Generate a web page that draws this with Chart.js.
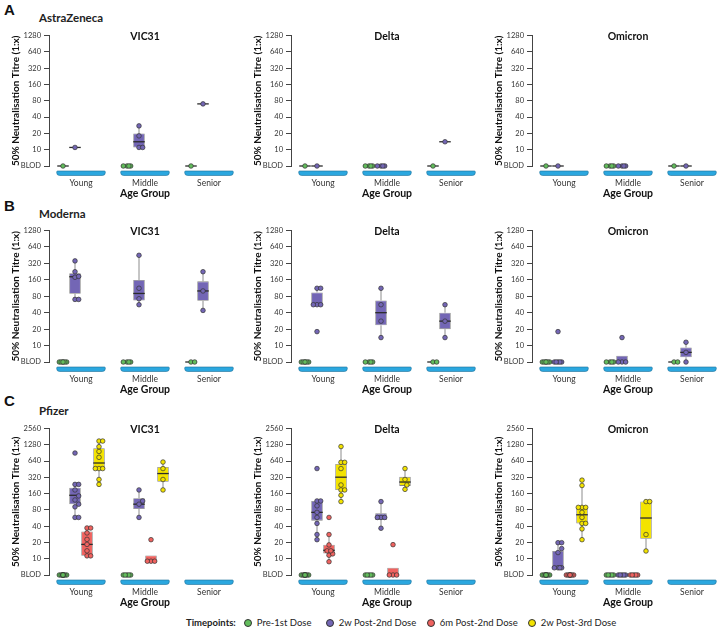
<!DOCTYPE html>
<html>
<head>
<meta charset="utf-8">
<script src="https://cdn.jsdelivr.net/npm/chart.js@4.4.1/dist/chart.umd.min.js"></script>
<style>
    body { margin: 0; width: 718px; height: 639px; overflow: hidden; background: #fff; position: relative; font-family: Lato, sans-serif; color: #222; }
    canvas { position: absolute; }
    .lbl { position: absolute; white-space: nowrap; line-height: 1; font-weight: bold; }
    .letter { font: bold 15px "Liberation Sans", Arial, sans-serif; color: #111; }
    .vacc { font-size: 11.5px; }
    .leg { position: absolute; top: 617px; font-size: 9.5px; white-space: nowrap; line-height: 12px; }
    .dot { display: inline-block; width: 6px; height: 6px; border-radius: 50%; border: 0.8px solid #333; vertical-align: -1px; }
</style>
</head>
<body>

<div class="lbl letter" style="left:4px;top:1px">A</div>
<div class="lbl vacc" style="left:39px;top:12px">AstraZeneca</div>
<div class="lbl letter" style="left:4px;top:197px">B</div>
<div class="lbl vacc" style="left:39px;top:208px">Moderna</div>
<div class="lbl letter" style="left:4px;top:392px">C</div>
<div class="lbl vacc" style="left:39px;top:405px">Pfizer</div>

<div class="leg" style="left:186px"><b>Timepoints:</b></div>
<div class="leg" style="left:244px"><span class="dot" style="background:#62bd5c"></span>&nbsp; Pre-1st Dose</div>
<div class="leg" style="left:326px"><span class="dot" style="background:#7366b5"></span>&nbsp; 2w Post-2nd Dose</div>
<div class="leg" style="left:427px"><span class="dot" style="background:#ef625f"></span>&nbsp; 6m Post-2nd Dose</div>
<div class="leg" style="left:528px"><span class="dot" style="background:#f3e300"></span>&nbsp; 2w Post-3rd Dose</div>

<script>
const ageGroups = ['Young', 'Middle', 'Senior'];
const timepoints = ['Pre-1st Dose', '2w Post-2nd Dose', '6m Post-2nd Dose', '2w Post-3rd Dose'];
const ticks1280 = [5, 10, 20, 40, 80, 160, 320, 640, 1280];
const ticks2560 = [5, 10, 20, 40, 80, 160, 320, 640, 1280, 2560];

// titres per [age group][timepoint]; BLOD is plotted at 5
// boxes are [low whisker, q1, median, q3, high whisker]

// AstraZeneca
const azVic31Pts = [
    [[5], [11], [], []],
    [[5, 5, 5, 5], [11, 11, 18, 27.5], [], []],
    [[5], [70], [], []]
];
const azVic31Box = [
    [[5, 5, 5, 5, 5], [11, 11, 11, 11, 11], null, null],
    [[5, 5, 5, 5, 5], [11, 11, 14, 20, 27.5], null, null],
    [[5, 5, 5, 5, 5], [70, 70, 70, 70, 70], null, null]
];
const azDeltaPts = [
    [[5], [5], [], []],
    [[5, 5, 5, 5], [5, 5, 5, 5], [], []],
    [[5], [14], [], []]
];
const azDeltaBox = [
    [[5, 5, 5, 5, 5], [5, 5, 5, 5, 5], null, null],
    [[5, 5, 5, 5, 5], [5, 5, 5, 5, 5], null, null],
    [[5, 5, 5, 5, 5], [14, 14, 14, 14, 14], null, null]
];
const azOmicronPts = [
    [[5], [5], [], []],
    [[5, 5, 5, 5], [5, 5, 5, 5], [], []],
    [[5], [5], [], []]
];
const azOmicronBox = [
    [[5, 5, 5, 5, 5], [5, 5, 5, 5, 5], null, null],
    [[5, 5, 5, 5, 5], [5, 5, 5, 5, 5], null, null],
    [[5, 5, 5, 5, 5], [5, 5, 5, 5, 5], null, null]
];

// Moderna
const modVic31Pts = [
    [[5, 5, 5, 5, 5, 5], [70, 70, 178, 185, 225, 355], [], []],
    [[5, 5, 5, 5], [56, 72, 112, 450], [], []],
    [[5, 5], [44, 100, 225], [], []]
];
const modVic31Box = [
    [[5, 5, 5, 5, 5], [70, 89, 182, 212, 355], null, null],
    [[5, 5, 5, 5, 5], [56, 67, 90, 159, 450], null, null],
    [[5, 5, 5, 5, 5], [44, 66, 100, 150, 225], null, null]
];
const modDeltaPts = [
    [[5, 5, 5, 5, 5, 5], [18, 56, 56, 56, 112, 112], [], []],
    [[5, 5, 5, 5], [14, 28, 56, 112], [], []],
    [[5, 5], [14, 28, 56], [], []]
];
const modDeltaBox = [
    [[5, 5, 5, 5, 5], [56, 56, 56, 94, 112], null, null],
    [[5, 5, 5, 5, 5], [14, 23.5, 40, 67, 112], null, null],
    [[5, 5, 5, 5, 5], [14, 20, 28, 40, 56], null, null]
];
const modOmicronPts = [
    [[5, 5, 5, 5, 5, 5], [5, 5, 5, 5, 5, 18], [], []],
    [[5, 5, 5, 5], [5, 5, 5, 14], [], []],
    [[5, 5], [5, 7.5, 11.5], [], []]
];
const modOmicronBox = [
    [[5, 5, 5, 5, 5], [5, 5, 5, 5, 5], null, null],
    [[5, 5, 5, 5, 5], [5, 5, 5, 6.5, 6.5], null, null],
    [[5, 5, 5, 5, 5], [5, 6.1, 7.5, 9.2, 11.5], null, null]
];

// Pfizer
const pfzVic31Pts = [
    [[5, 5, 5, 5, 5, 5, 5, 5, 5, 5],
     [58, 58, 91, 102, 122, 145, 187, 237, 237, 900],
     [11.3, 11.3, 14, 18.4, 22.8, 30, 37, 37],
     [237, 292, 465, 465, 465, 750, 963, 1180, 1500, 1500]],
    [[5, 5, 5, 5, 5], [58, 102, 117, 187], [9, 9, 9, 22.5], [187, 292, 465, 614]],
    [[], [], [], []]
];
const pfzVic31Box = [
    [[5, 5, 5, 5, 5], [58, 102, 149, 206, 237], [11.3, 11.3, 18.4, 32, 37], [237, 465, 589, 1107, 1500]],
    [[5, 5, 5, 5, 5], [58, 83, 102, 132, 187], [9, 9, 9, 11.5, 11.5], [187, 265, 376, 498, 614]],
    [null, null, null, null]
];
const pfzDeltaPts = [
    [[5, 5, 5, 5, 5, 5, 5, 5, 5, 5],
     [22.5, 28, 45, 58, 72, 95, 117, 117, 465],
     [8.8, 11.6, 12.3, 14, 14, 18, 28, 58],
     [114, 149, 187, 187, 231, 465, 606, 606, 1187]],
    [[5, 5, 5, 5, 5], [36.6, 58, 58, 58, 114], [5, 5, 5, 18.2], [192, 231, 292, 465]],
    [[], [], [], []]
];
const pfzDeltaBox = [
    [[5, 5, 5, 5, 5], [22.5, 50.6, 72, 117, 117], [8.8, 12.5, 14.3, 18.2, 28], [114, 187, 322, 565, 1187]],
    [[5, 5, 5, 5, 5], [36.6, 52, 58, 69, 114], [5, 5, 5, 6.8, 6.8], [192, 222, 262, 327, 465]],
    [null, null, null, null]
];
const pfzOmicronPts = [
    [[5, 5, 5, 5, 5, 5, 5, 5, 5, 5],
     [6.8, 6.8, 6.8, 6.8, 13, 15.4, 19.8, 19.8],
     [5, 5, 5, 5, 5, 5, 5, 5],
     [22.5, 35.6, 45, 45, 58, 72, 89, 89, 89, 226, 284]],
    [[5, 5, 5, 5, 5], [5, 5, 5, 5, 5], [5, 5, 5, 5, 5], [13.9, 28, 114, 114]],
    [[], [], [], []]
];
const pfzOmicronBox = [
    [[5, 5, 5, 5, 5], [6.8, 6.8, 6.8, 13.9, 19.8], [5, 5, 5, 5, 5], [22.5, 45, 65, 89, 226]],
    [[5, 5, 5, 5, 5], [5, 5, 5, 5, 5], [5, 5, 5, 5, 5], [13.9, 23.4, 56.6, 114, 114]],
    [null, null, null, null]
];

const tpColors = ['#62bd5c', '#7366b5', '#ef625f', '#f3e300'];
const FONT = 'Lato, sans-serif';

// where the panels go on the page
const colLeft = [0, 242, 483];
const rowTop = [28, 223, 421];
const rowHeight = [172, 173, 188];

const panels = [
    { row: 0, col: 0, title: 'VIC31', pts: azVic31Pts, box: azVic31Box, ticks: ticks1280 },
    { row: 0, col: 1, title: 'Delta', pts: azDeltaPts, box: azDeltaBox, ticks: ticks1280 },
    { row: 0, col: 2, title: 'Omicron', pts: azOmicronPts, box: azOmicronBox, ticks: ticks1280 },
    { row: 1, col: 0, title: 'VIC31', pts: modVic31Pts, box: modVic31Box, ticks: ticks1280 },
    { row: 1, col: 1, title: 'Delta', pts: modDeltaPts, box: modDeltaBox, ticks: ticks1280 },
    { row: 1, col: 2, title: 'Omicron', pts: modOmicronPts, box: modOmicronBox, ticks: ticks1280 },
    { row: 2, col: 0, title: 'VIC31', pts: pfzVic31Pts, box: pfzVic31Box, ticks: ticks2560 },
    { row: 2, col: 1, title: 'Delta', pts: pfzDeltaPts, box: pfzDeltaBox, ticks: ticks2560 },
    { row: 2, col: 2, title: 'Omicron', pts: pfzOmicronPts, box: pfzOmicronBox, ticks: ticks2560 },
];

// spread points sideways so they do not sit on top of each other
function swarm(ys, lim, r) {
    var cands = [0];
    for (var s = r * 0.8; s <= lim + 0.01; s += r * 0.8) cands.push(s, -s);
    var order = ys.map((_, k) => k).sort((a, b) => ys[b] - ys[a]);
    var xs = [], done = [];
    order.forEach(k => {
        var best = 0, bestD = -1;
        for (const c of cands) {
            var d = Infinity;
            done.forEach(m => { d = Math.min(d, Math.hypot(c - xs[m], ys[k] - ys[m])); });
            if (d >= 2 * r) { best = c; break; }
            if (d > bestD) { bestD = d; best = c; }
        }
        xs[k] = best;
        done.push(k);
    });
    return xs;
}

const boxPlugin = {
    id: 'boxPlot',
    afterDatasetsDraw(chart, args, opts) {
        var ctx = chart.ctx, ys = chart.scales.y;
        ctx.save();
        chart.data.datasets.forEach((ds, t) => {
            chart.getDatasetMeta(t).data.forEach((bar, a) => {
                var b = opts.box[a][t];
                if (!b) return;
                var x = bar.x, w = bar.width;
                ctx.strokeStyle = '#8c8c8c';
                ctx.lineWidth = 1;
                ctx.beginPath();
                ctx.moveTo(x, ys.getPixelForValue(b[3]));
                ctx.lineTo(x, ys.getPixelForValue(b[4]));
                ctx.moveTo(x, ys.getPixelForValue(b[1]));
                ctx.lineTo(x, ys.getPixelForValue(b[0]));
                ctx.stroke();
                var ym = ys.getPixelForValue(b[2]);
                ctx.strokeStyle = '#2b2b2b';
                ctx.lineWidth = 1.3;
                ctx.beginPath();
                ctx.moveTo(x - w / 2, ym);
                ctx.lineTo(x + w / 2, ym);
                ctx.stroke();
            });
        });
        chart.data.datasets.forEach((ds, t) => {
            chart.getDatasetMeta(t).data.forEach((bar, a) => {
                var vals = opts.pts[a][t];
                if (!vals.length) return;
                var py = vals.map(v => ys.getPixelForValue(v));
                var px = swarm(py, bar.width * 0.38, 2.3);
                py.forEach((y, k) => {
                    ctx.beginPath();
                    ctx.arc(bar.x + px[k], y, 2.3, 0, Math.PI * 2);
                    ctx.fillStyle = tpColors[t];
                    ctx.fill();
                    ctx.strokeStyle = '#333';
                    ctx.lineWidth = 0.7;
                    ctx.stroke();
                });
            });
        });
        ctx.restore();
    }
};

// blue trays under each age group + panel title
const decoPlugin = {
    id: 'deco',
    beforeDatasetsDraw(chart) {
        var ctx = chart.ctx, xs = chart.scales.x, area = chart.chartArea;
        var w = (xs.getPixelForValue(1) - xs.getPixelForValue(0)) * 0.76;
        ctx.save();
        ctx.fillStyle = '#2ba7df';
        ctx.strokeStyle = '#1d6f99';
        ctx.lineWidth = 0.6;
        ageGroups.forEach((g, i) => {
            var cx = xs.getPixelForValue(i);
            ctx.beginPath();
            if (ctx.roundRect) ctx.roundRect(cx - w / 2, area.bottom + 5, w, 4.5, [1, 1, 3, 3]);
            else ctx.rect(cx - w / 2, area.bottom + 5, w, 4.5);
            ctx.fill();
            ctx.stroke();
        });
        ctx.restore();
    },
    afterDraw(chart, args, opts) {
        var ctx = chart.ctx, area = chart.chartArea;
        ctx.save();
        ctx.font = 'bold 10.5px ' + FONT;
        ctx.fillStyle = '#111';
        ctx.textAlign = 'center';
        ctx.textBaseline = 'middle';
        ctx.fillText(opts.text, (area.left + area.right) / 2, area.top + 1);
        ctx.restore();
    }
};

panels.forEach(p => {
    var cv = document.createElement('canvas');
    cv.width = 241;
    cv.height = rowHeight[p.row];
    cv.style.left = colLeft[p.col] + 'px';
    cv.style.top = rowTop[p.row] + 'px';
    document.body.appendChild(cv);

    var datasets = timepoints.map((tp, t) => ({
        label: tp,
        data: p.box.map(ag => ag[t] ? [ag[t][1], ag[t][3]] : null),
        backgroundColor: tpColors[t],
        borderColor: '#858585',
        borderWidth: 0.8,
        borderSkipped: false,
        categoryPercentage: 0.75,
        barPercentage: 0.96,
    }));

    new Chart(cv, {
        type: 'bar',
        data: { labels: ageGroups, datasets: datasets },
        plugins: [decoPlugin, boxPlugin],
        options: {
            responsive: false,
            animation: false,
            layout: { padding: { top: 6, left: 0, right: 0, bottom: 0 } },
            plugins: {
                legend: { display: false },
                tooltip: { enabled: false },
                deco: { text: p.title },
                boxPlot: { pts: p.pts, box: p.box },
            },
            scales: {
                x: {
                    grid: { display: false, drawTicks: false },
                    border: { display: false },
                    ticks: { padding: 12, color: '#333', font: { family: FONT, size: 8.5 } },
                    title: { display: true, text: 'Age Group', color: '#111', padding: { top: 0, bottom: 0 }, font: { family: FONT, size: 10.5, weight: 'bold' } },
                    afterFit: s => { s.height = 34; }
                },
                y: {
                    type: 'logarithmic',
                    min: 5,
                    max: p.ticks[p.ticks.length - 1],
                    afterBuildTicks: s => { s.ticks = p.ticks.map(v => ({ value: v })); },
                    ticks: {
                        autoSkip: false,
                        padding: 3,
                        color: '#333',
                        font: { family: FONT, size: 7.5 },
                        callback: v => v === 5 ? 'BLOD' : String(v)
                    },
                    grid: { drawOnChartArea: false, drawTicks: true, tickLength: 5, color: '#444' },
                    border: { color: '#444', width: 1 },
                    title: { display: true, text: '50% Neutralisation Titre (1:x)', color: '#111', padding: { top: 10, bottom: 0 }, font: { family: FONT, size: 10, weight: 'bold' } },
                    afterFit: s => { s.width = 49; }
                }
            }
        }
    });
});
</script>
</body>
</html>
